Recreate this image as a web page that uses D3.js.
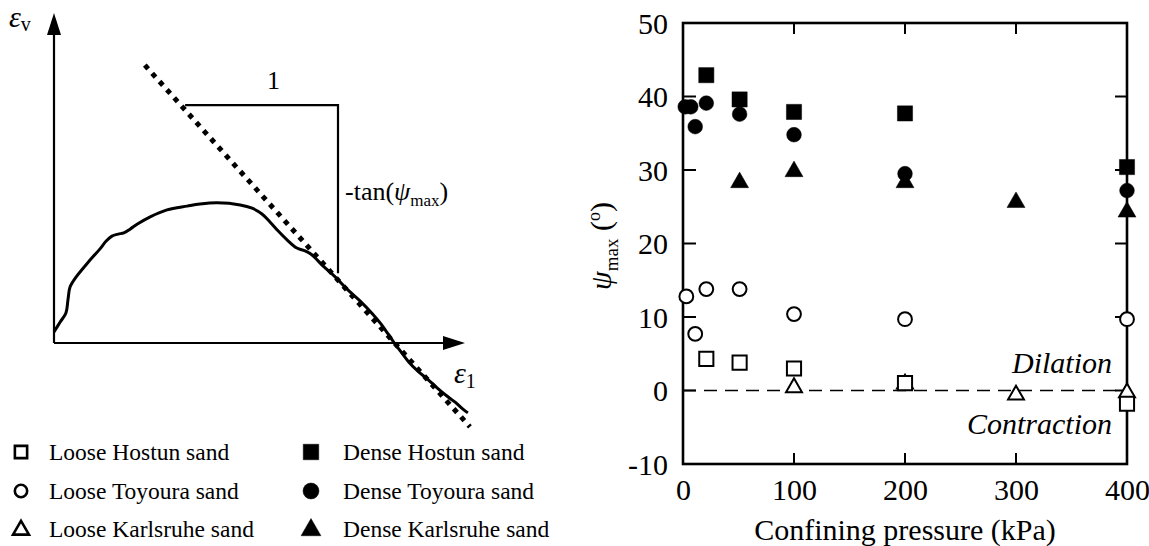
<!DOCTYPE html>
<html>
<head>
<meta charset="utf-8">
<script src="https://cdn.jsdelivr.net/npm/d3@7"></script>
<style>
  html, body { margin: 0; padding: 0; background: #fff; }
  svg, svg text { font-family: "Liberation Serif", "Times New Roman", serif !important; }
</style>
</head>
<body>
<svg id="chart" width="1149" height="546"></svg>
<script>
// ---------------- data ----------------
const xTicks = [0, 100, 200, 300, 400];
const yTicks = [-10, 0, 10, 20, 30, 40, 50];
const xInnerTicks = [100, 200, 300];
const yInnerTicks = [0, 10, 20, 30, 40];

const looseHostunP   = [21, 51, 100, 200, 400];
const looseHostunPsi = [4.3, 3.8, 3.0, 1.0, -1.8];

const looseToyouraP   = [3, 11, 21, 51, 100, 200, 400];
const looseToyouraPsi = [12.8, 7.7, 13.8, 13.8, 10.4, 9.7, 9.7];

const looseKarlsruheP   = [100, 200, 300, 400];
const looseKarlsruhePsi = [0.4, 0.9, -0.6, -0.3];

const denseHostunP   = [21, 51, 100, 200, 400];
const denseHostunPsi = [42.9, 39.6, 37.9, 37.7, 30.4];

const denseToyouraP   = [2, 7, 11, 21, 51, 100, 200, 400];
const denseToyouraPsi = [38.6, 38.6, 35.9, 39.1, 37.6, 34.8, 29.5, 27.2];

const denseKarlsruheP   = [51, 100, 200, 300, 400];
const denseKarlsruhePsi = [28.3, 29.8, 28.3, 25.6, 24.3];

const legendLabels = [
  "Loose Hostun sand", "Loose Toyoura sand", "Loose Karlsruhe sand",
  "Dense Hostun sand", "Dense Toyoura sand", "Dense Karlsruhe sand"
];

// schematic (left panel): eps1 / epsv in arbitrary units
const curveE1 = [0, 1.5, 2.9, 3.4, 3.9, 5.4, 7.1, 9.2, 11.2, 12.7, 14.1, 15.6, 17.0, 18.5, 20.4, 23.4, 27.5, 32.4, 35.5, 39.7, 45.3, 48.2, 50.6, 52.6, 54.5, 56.7, 59.1, 61.1, 62.8, 65.5, 68.4, 71.3, 74.5, 77.4, 79.5, 81.0, 82.6, 84.4, 86.3, 88.6, 91.0, 93.2, 95.6, 97.6, 99.5, 100.7];
const curveEv = [2.7, 5.1, 7.3, 10.5, 13.6, 16.1, 18.2, 20.7, 22.9, 24.8, 26.0, 26.5, 26.8, 27.7, 29.0, 30.7, 32.4, 33.3, 33.8, 34.1, 33.6, 32.8, 31.4, 29.4, 27.3, 25.1, 23.1, 22.4, 21.4, 18.7, 16.1, 13.1, 10.2, 7.2, 4.7, 2.6, 0.3, -2.1, -4.6, -6.9, -8.9, -10.9, -12.9, -14.4, -16.1, -17.0];
const tangentE1 = [22.1, 101.2];
const tangentEv = [67.6, -20.4];
const bracketE1 = [31.9, 69.1, 69.1];
const bracketEv = [57.9, 57.9, 17.0];
const schemAxisMax = [100, 80.3];

// ---------------- setup ----------------
const FONT = "'Liberation Serif', 'Times New Roman', serif";
const svg = d3.select("#chart");
svg.append("rect").attr("width", 1149).attr("height", 546).attr("fill", "#fff");

// ============ LEFT: schematic ============
const sx = d3.scaleLinear().domain([0, 100]).range([54, 465]);
const sy = d3.scaleLinear().domain([0, 100]).range([343, -68]);
const L = svg.append("g");

// axes
L.append("line").attr("x1", sx(0)).attr("y1", sy(0)).attr("x2", sx(schemAxisMax[0]) - 18).attr("y2", sy(0))
  .attr("stroke", "#000").attr("stroke-width", 2.2);
L.append("line").attr("x1", sx(0)).attr("y1", sy(0)).attr("x2", sx(0)).attr("y2", sy(schemAxisMax[1]) + 18)
  .attr("stroke", "#000").attr("stroke-width", 2.2);
// arrow heads
L.append("path")
  .attr("d", `M${sx(schemAxisMax[0])},${sy(0)} L${sx(schemAxisMax[0]) - 22},${sy(0) - 7} L${sx(schemAxisMax[0]) - 22},${sy(0) + 7} Z`)
  .attr("fill", "#000");
L.append("path")
  .attr("d", `M${sx(0)},${sy(schemAxisMax[1])} L${sx(0) - 7},${sy(schemAxisMax[1]) + 22} L${sx(0) + 7},${sy(schemAxisMax[1]) + 22} Z`)
  .attr("fill", "#000");

// bracket
L.append("path")
  .datum(d3.range(bracketE1.length))
  .attr("d", d3.line().x(i => sx(bracketE1[i])).y(i => sy(bracketEv[i])))
  .attr("fill", "none").attr("stroke", "#000").attr("stroke-width", 2.2);

// tangent dotted line
L.append("path")
  .datum(d3.range(tangentE1.length))
  .attr("d", d3.line().x(i => sx(tangentE1[i])).y(i => sy(tangentEv[i])))
  .attr("fill", "none").attr("stroke", "#000").attr("stroke-width", 5)
  .attr("stroke-dasharray", "5,6");

// curve
L.append("path")
  .datum(d3.range(curveE1.length))
  .attr("d", d3.line().x(i => sx(curveE1[i])).y(i => sy(curveEv[i])).curve(d3.curveCatmullRom))
  .attr("fill", "none").attr("stroke", "#000").attr("stroke-width", 3).attr("stroke-linejoin", "round");

// schematic labels
const ev = L.append("text").attr("x", 9).attr("y", 27).attr("font-size", 30).attr("font-family", FONT);
ev.append("tspan").attr("font-style", "italic").text("ε");
ev.append("tspan").attr("font-size", 20).attr("dy", 4).text("v");

const e1 = L.append("text").attr("x", 454).attr("y", 383).attr("font-size", 30).attr("font-family", FONT);
e1.append("tspan").attr("font-style", "italic").text("ε");
e1.append("tspan").attr("font-size", 20).attr("dy", 5).text("1");

L.append("text").attr("x", (sx(bracketE1[0]) + sx(bracketE1[1])) / 2 + 12).attr("y", sy(bracketEv[0]) - 16)
  .attr("font-size", 26).attr("font-family", FONT).attr("text-anchor", "middle").text("1");

const tn = L.append("text").attr("x", sx(bracketE1[1]) + 7).attr("y", 200).attr("font-size", 26).attr("font-family", FONT);
tn.append("tspan").text("-tan(");
tn.append("tspan").attr("font-style", "italic").text("ψ");
tn.append("tspan").attr("font-size", 17).attr("dy", 6).text("max");
tn.append("tspan").attr("dy", -6).text(")");

// ============ RIGHT: scatter ============
const x = d3.scaleLinear().domain([0, 400]).range([683, 1127]);
const y = d3.scaleLinear().domain([-10, 50]).range([464, 23]);
const R = svg.append("g");

// dashed zero line
R.append("line").attr("x1", x(0)).attr("x2", x(400)).attr("y1", y(0)).attr("y2", y(0))
  .attr("stroke", "#000").attr("stroke-width", 1.6).attr("stroke-dasharray", "13,8");

// axes
const tickLen = 11;
const gB = R.append("g").attr("transform", `translate(0,${y(-10)})`)
  .call(d3.axisBottom(x).tickValues(xTicks).tickSize(0).tickPadding(15).tickFormat(d => String(d)));
const gL = R.append("g").attr("transform", `translate(${x(0)},0)`)
  .call(d3.axisLeft(y).tickValues(yTicks).tickSize(0).tickPadding(15).tickFormat(d => String(d)));
[gB, gL].forEach(g => {
  g.attr("font-family", FONT).attr("font-size", 30);
  g.select(".domain").remove();
  g.selectAll("text").attr("font-size", 30).attr("fill", "#000").attr("font-family", FONT);
});
gL.selectAll("text").attr("dy", "0.34em");

// inner ticks
R.selectAll(".tb").data(xInnerTicks).join("line")
  .attr("x1", d => x(d)).attr("x2", d => x(d)).attr("y1", y(-10)).attr("y2", y(-10) - tickLen)
  .attr("stroke", "#000").attr("stroke-width", 2);
R.selectAll(".tt").data(xInnerTicks).join("line")
  .attr("x1", d => x(d)).attr("x2", d => x(d)).attr("y1", y(50)).attr("y2", y(50) + tickLen)
  .attr("stroke", "#000").attr("stroke-width", 2);
R.selectAll(".tl").data(yInnerTicks).join("line")
  .attr("x1", x(0)).attr("x2", x(0) + tickLen + 2).attr("y1", d => y(d)).attr("y2", d => y(d))
  .attr("stroke", "#000").attr("stroke-width", 2);
R.selectAll(".tr").data(yInnerTicks).join("line")
  .attr("x1", x(400)).attr("x2", x(400) - tickLen - 1).attr("y1", d => y(d)).attr("y2", d => y(d))
  .attr("stroke", "#000").attr("stroke-width", 2);

// frame
R.append("rect").attr("x", x(0)).attr("y", y(50)).attr("width", x(400) - x(0)).attr("height", y(-10) - y(50))
  .attr("fill", "none").attr("stroke", "#000").attr("stroke-width", 2.6);

// markers
const sym = (type, size) => d3.symbol().type(type).size(size)();
function drawSeries(P, Psi, type, size, filled) {
  R.append("g").selectAll("path").data(d3.range(P.length)).join("path")
    .attr("transform", i => `translate(${x(P[i])},${y(Psi[i])})`)
    .attr("d", sym(type, size))
    .attr("fill", filled ? "#000" : "#fff")
    .attr("stroke", "#000").attr("stroke-width", filled ? 0.5 : 2);
}
drawSeries(looseKarlsruheP, looseKarlsruhePsi, d3.symbolTriangle, 110, false);
drawSeries(looseHostunP, looseHostunPsi, d3.symbolSquare, 200, false);
drawSeries(looseToyouraP, looseToyouraPsi, d3.symbolCircle, 150, false);
drawSeries(denseKarlsruheP, denseKarlsruhePsi, d3.symbolTriangle, 140, true);
drawSeries(denseToyouraP, denseToyouraPsi, d3.symbolCircle, 170, true);
drawSeries(denseHostunP, denseHostunPsi, d3.symbolSquare, 230, true);

// annotations
R.append("text").attr("x", 1112).attr("y", 373).attr("text-anchor", "end").attr("font-family", FONT)
  .attr("font-size", 30).attr("font-style", "italic").text("Dilation");
R.append("text").attr("x", 1112).attr("y", 434).attr("text-anchor", "end").attr("font-family", FONT)
  .attr("font-size", 30).attr("font-style", "italic").text("Contraction");

// axis titles
R.append("text").attr("x", (x(0) + x(400)) / 2).attr("y", 540).attr("text-anchor", "middle")
  .attr("font-family", FONT).attr("font-size", 30).text("Confining pressure (kPa)");
const yl = R.append("text").attr("transform", "translate(611,246) rotate(-90)")
  .attr("text-anchor", "middle").attr("font-size", 30).attr("font-family", FONT);
yl.append("tspan").attr("font-style", "italic").text("ψ");
yl.append("tspan").attr("font-size", 19).attr("dy", 7).text("max");
yl.append("tspan").attr("dy", -7).text(" (");
yl.append("tspan").attr("font-size", 18).attr("dy", -11).text("o");
yl.append("tspan").attr("dy", 11).text(")");

// ============ legend ============
const legendShapes = [d3.symbolSquare, d3.symbolCircle, d3.symbolTriangle, d3.symbolSquare, d3.symbolCircle, d3.symbolTriangle];
const legendSizes = [150, 120, 110, 240, 200, 170];
const legendFilled = [false, false, false, true, true, true];
const legX = [21, 311];
const legTextX = [49, 343];
const legY = [452, 491, 529];
const Lg = svg.append("g");
legendLabels.forEach((lab, i) => {
  const col = Math.floor(i / 3), row = i % 3;
  Lg.append("path")
    .attr("transform", `translate(${legX[col]},${legY[row] + (legendShapes[i] === d3.symbolTriangle ? 1 : 0)})`)
    .attr("d", sym(legendShapes[i], legendSizes[i]))
    .attr("fill", legendFilled[i] ? "#000" : "#fff")
    .attr("stroke", "#000").attr("stroke-width", legendFilled[i] ? 0.5 : 2.6);
  Lg.append("text").attr("x", legTextX[col]).attr("y", legY[row] + 8).attr("font-family", FONT)
    .attr("font-size", 23.5).text(lab);
});
</script>
</body>
</html>
